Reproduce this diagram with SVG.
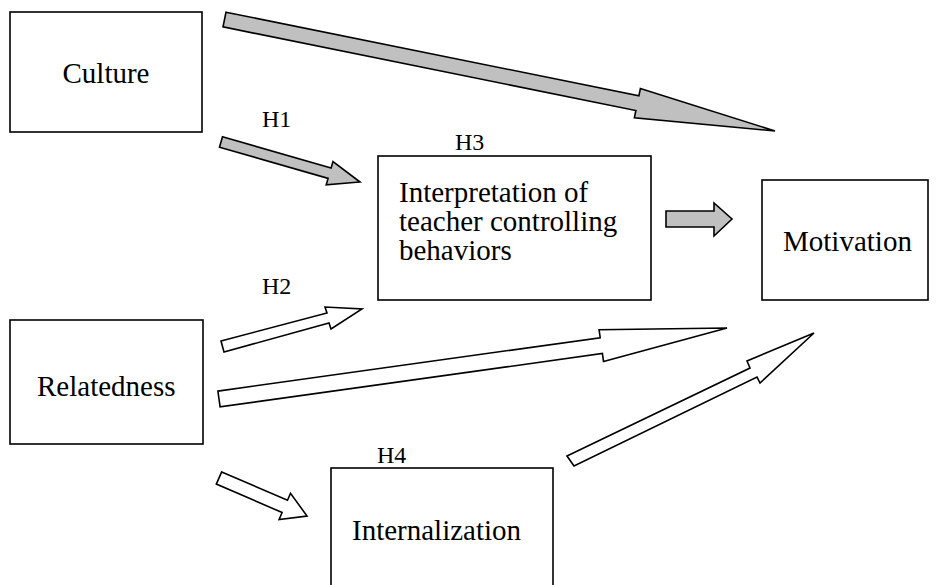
<svg xmlns="http://www.w3.org/2000/svg" width="945" height="585" viewBox="0 0 945 585">
<style>
.box{fill:#fff;stroke:#000;stroke-width:1.6}
.lbl{font-family:"Liberation Serif","Times New Roman",serif;font-size:29px;fill:#000}
.h{font-family:"Liberation Serif","Times New Roman",serif;font-size:24px;fill:#000}
.ga{fill:#c0c0c0;stroke:#000;stroke-width:1.6;stroke-linejoin:miter}
.wa{fill:#fff;stroke:#000;stroke-width:1.6;stroke-linejoin:miter}
</style>
<rect width="945" height="585" fill="#fff"/>
<g id="connectors">
<polygon class="ga" points="226,12.2 638.9,95.8 640.4,88.5 775,131 634.4,117.7 635.9,110.5 223,26.9"/>
<polygon class="ga" points="222.5,136.8 331.1,168 333,161.5 360,182 326.2,184.9 328.1,178.4 219.5,147.2"/>
<polygon class="wa" points="221,341 327,313 325,307 362,309 331,329 329,323 224,352"/>
<polygon class="wa" points="217.9,391.1 600.2,337.7 599.1,329.8 727,328 603.5,361.4 602.4,353.5 220.1,406.9"/>
<polygon class="wa" points="221.7,471.9 287.5,500.2 290.5,493.3 307,516 279.1,519.5 282.1,512.5 216.3,484.1"/>
<polygon class="wa" points="567,456 750,368 747,361 814,333 760,383 757,377 574,466"/>
<polygon class="ga" points="666,211 714,211 714,203 732,219 714,236 714,227 666,227"/>
</g>
<g id="culture">
<rect class="box" x="10" y="12" width="192" height="120"/>
<text class="lbl" x="106" y="83" text-anchor="middle">Culture</text>
</g>
<g id="interpretation">
<rect class="box" x="378" y="156" width="273" height="144"/>
<text class="lbl" x="399" y="202">Interpretation of</text>
<text class="lbl" x="399" y="231">teacher controlling</text>
<text class="lbl" x="399" y="260">behaviors</text>
</g>
<g id="motivation">
<rect class="box" x="762" y="180" width="166" height="120"/>
<text class="lbl" x="783" y="251">Motivation</text>
</g>
<g id="relatedness">
<rect class="box" x="10" y="320" width="193" height="124"/>
<text class="lbl" x="37" y="396">Relatedness</text>
</g>
<g id="internalization">
<rect class="box" x="331" y="468" width="222" height="130"/>
<text class="lbl" x="352" y="540">Internalization</text>
</g>
<g id="labels">
<text class="h" x="262" y="127">H1</text>
<text class="h" x="262" y="294">H2</text>
<text class="h" x="455" y="150">H3</text>
<text class="h" x="377" y="463">H4</text>
</g>
</svg>
